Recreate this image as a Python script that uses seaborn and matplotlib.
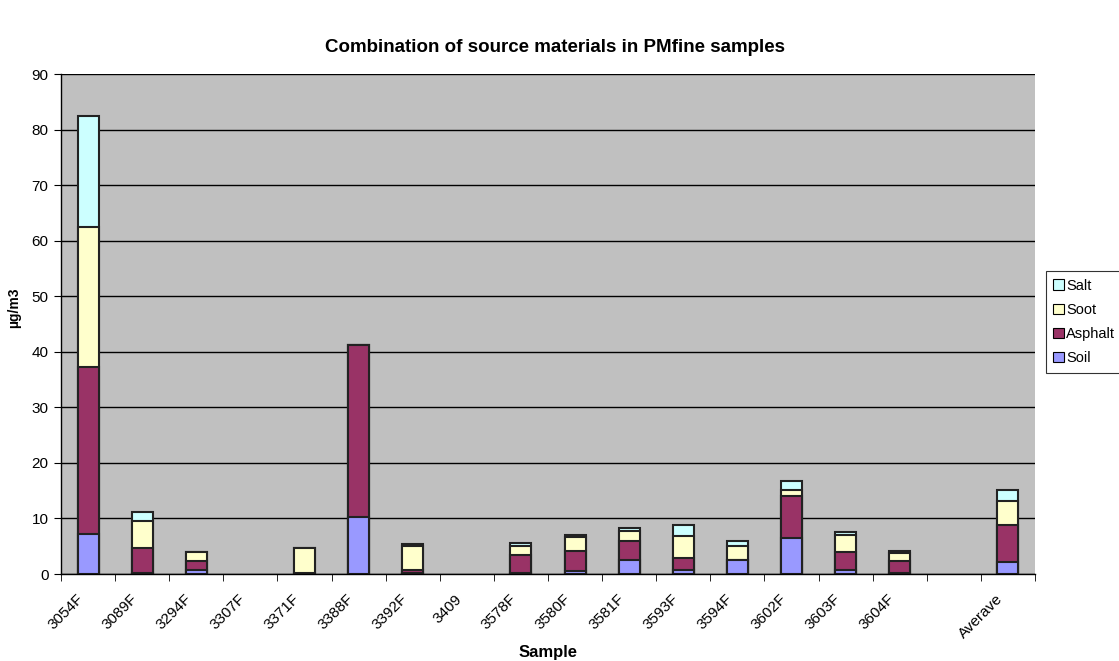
import pandas as pd
import numpy as np
import seaborn as sns
import matplotlib.pyplot as plt
from matplotlib.transforms import ScaledTranslation

samples = ['3054F', '3089F', '3294F', '3307F', '3371F', '3388F', '3392F', '3409',
           '3578F', '3580F', '3581F', '3593F', '3594F', '3602F', '3603F', '3604F',
           ' ', 'Averave']
soil    = [7.2, 0.2, 0.7, 0, 0.0, 10.2, 0.1, 0, 0.1, 0.5, 2.6, 0.7, 2.5, 6.4, 0.7, 0.1, 0, 2.2]
asphalt = [30.1, 4.5, 1.6, 0, 0.1, 31.0, 0.6, 0, 3.3, 3.6, 3.4, 2.1, 0.1, 7.6, 3.2, 2.2, 0, 6.7]
soot    = [25.1, 4.9, 1.6, 0, 4.5, 0.0, 4.4, 0, 1.7, 2.5, 1.8, 4.0, 2.4, 1.1, 3.2, 1.4, 0, 4.3]
salt    = [20.1, 1.6, 0.1, 0, 0.0, 0.0, 0.3, 0, 0.4, 0.5, 0.5, 2.1, 0.9, 1.7, 0.5, 0.5, 0, 2.0]

components = ['Soil', 'Asphalt', 'Soot', 'Salt']
colors = {'Soil': '#9999FF', 'Asphalt': '#993366', 'Soot': '#FFFFCC', 'Salt': '#CCFFFF'}

df = pd.DataFrame({'Sample': samples, 'Soil': soil, 'Asphalt': asphalt,
                   'Soot': soot, 'Salt': salt})
# cumulative heights for stacking, empty samples drawn as nothing
cum = df[components].cumsum(axis=1)
cum = cum.where(cum > 0)
cum.insert(0, 'Sample', df.Sample)

plt.rcParams['font.family'] = ['Liberation Sans', 'DejaVu Sans']
fig = plt.figure(figsize=(11.19, 6.61), dpi=100)
ax = fig.add_axes([61/1119, 87/661, 974/1119, 500/661])
ax.set_facecolor('#C0C0C0')
ax.set_axisbelow(True)
ax.yaxis.grid(True, color='black', linewidth=1)

handles = {}
for comp in reversed(components):
    sns.barplot(data=cum, x='Sample', y=comp, order=samples, color=colors[comp],
                saturation=1, width=0.39, errorbar=None, edgecolor='#222222',
                linewidth=1.5, ax=ax)
    handles[comp] = plt.Rectangle((0, 0), 1, 1, facecolor=colors[comp],
                                  edgecolor='black', linewidth=0.8)

ax.set_ylim(0, 90)
ax.set_xlim(-0.5, len(samples) - 0.5)
ax.set_yticks(np.arange(0, 91, 10))
ax.tick_params(axis='y', labelsize=11, length=5, direction='out', colors='black', pad=4)
ax.set_xticks(np.arange(len(samples)))
ax.set_xticklabels([s.strip() for s in samples], rotation=45, ha='right',
                   rotation_mode='anchor', fontsize=11)
ax.tick_params(axis='x', length=0, pad=13)
offset = ScaledTranslation(-12/100, 0, fig.dpi_scale_trans)
for lbl in ax.get_xticklabels():
    lbl.set_transform(lbl.get_transform() + offset)
ax.set_xticks(np.arange(len(samples) + 1) - 0.5, minor=True)
ax.tick_params(axis='x', which='minor', length=5, direction='out')
for side in ['top', 'right']:
    ax.spines[side].set_visible(False)
for side in ['left', 'bottom']:
    ax.spines[side].set_color('black')
    ax.spines[side].set_linewidth(1)

ax.set_xlabel('')
ax.set_ylabel('µg/m3', fontsize=10, fontweight='bold')
ax.yaxis.set_label_coords(-40/974, 0.532)
fig.text(548/1119, 1 - 652/661, 'Sample', ha='center', va='center',
         fontsize=12, fontweight='bold')

fig.text(555/1119, 1 - 47/661, 'Combination of source materials in PMfine samples',
         ha='center', va='center', fontsize=13.5, fontweight='bold')

leg = fig.legend([handles[c] for c in reversed(components)], list(reversed(components)),
                 loc='center left', bbox_to_anchor=(1046/1119, 1 - 322/661),
                 frameon=True, fancybox=False, edgecolor='black', fontsize=10.5,
                 handlelength=0.7, handleheight=0.7, handletextpad=0.2,
                 borderpad=0.5, labelspacing=0.7, borderaxespad=0)
leg.get_frame().set_linewidth(0.8)

fig.savefig('out.png', dpi=100)
